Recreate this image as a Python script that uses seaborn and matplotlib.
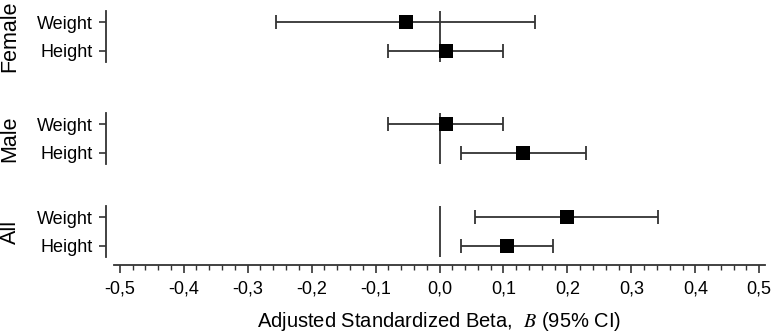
import matplotlib
matplotlib.use("Agg")
import matplotlib.pyplot as plt
import seaborn as sns
import pandas as pd
from matplotlib.ticker import MultipleLocator, FixedLocator

# Data
groups = ["Female", "Male", "All"]
measures = ["Weight", "Height"]
beta = [-0.053, 0.010, 0.010, 0.130, 0.199, 0.105]
lower = [-0.256, -0.080, -0.080, 0.033, 0.055, 0.033]
upper = [0.150, 0.100, 0.100, 0.229, 0.342, 0.177]
xticks = [-0.5, -0.4, -0.3, -0.2, -0.1, 0.0, 0.1, 0.2, 0.3, 0.4, 0.5]
xtick_labels = ["-0,5", "-0,4", "-0,3", "-0,2", "-0,1", "0,0", "0,1", "0,2", "0,3", "0,4", "0,5"]

df = pd.DataFrame({
    "group": [g for g in groups for _ in measures],
    "measure": measures * len(groups),
    "beta": beta,
    "lower": lower,
    "upper": upper,
})
df["row"] = df["measure"].map({m: i for i, m in enumerate(measures)})

sns.set_style("ticks", {"text.color": "black", "xtick.color": "black",
                        "ytick.color": "black", "axes.labelcolor": "black"})
plt.rcParams["font.family"] = ["Liberation Sans", "DejaVu Sans"]
plt.rcParams["mathtext.fontset"] = "stix"

W, H = 771, 332
fig = plt.figure(figsize=(W / 100, H / 100), dpi=100)

line_col = "#333333"
panel_px = [(11, 62), (113, 164), (206, 257)]  # top/bottom of each panel in pixels
left_px, right_px = 114, 765

for gi, g in enumerate(groups):
    top, bot = panel_px[gi]
    ax = fig.add_axes([left_px / W, (H - bot) / H, (right_px - left_px) / W, (bot - top) / H])
    sub = df[df["group"] == g]

    ax.axvline(0, color=line_col, lw=1.3, zorder=1)
    ax.errorbar(sub["beta"], sub["row"],
                xerr=[sub["beta"] - sub["lower"], sub["upper"] - sub["beta"]],
                fmt="none", ecolor=line_col, elinewidth=1.3, capsize=4.7,
                capthick=1.3, zorder=2)
    sns.scatterplot(data=sub, x="beta", y="row", marker="s", s=95, color="black",
                    edgecolor="black", linewidth=0, ax=ax, zorder=3, legend=False)

    if gi < len(groups) - 1:
        sns.despine(ax=ax, bottom=True, offset={"left": 6})
        ax.set_xticks([])
    else:
        sns.despine(ax=ax, offset={"left": 6, "bottom": 6})
        ax.xaxis.set_major_locator(FixedLocator(xticks))
        ax.set_xticklabels(xtick_labels)
        ax.xaxis.set_minor_locator(MultipleLocator(0.02))
        ax.tick_params(axis="x", which="major", length=6, width=1.2, pad=5,
                       color=line_col, labelsize=13)
        ax.tick_params(axis="x", which="minor", length=3.5, width=1.0, color=line_col)
        ax.spines["bottom"].set_linewidth(1.3)
        ax.spines["bottom"].set_color(line_col)

    ax.set_xlim(-0.509, 0.509)
    ax.set_ylim(1.38, -0.38)
    ax.set_yticks(range(len(measures)))
    ax.set_yticklabels(measures)
    ax.tick_params(axis="y", length=5, width=1.2, pad=4, color=line_col, labelsize=13)
    ax.spines["left"].set_linewidth(1.3)
    ax.spines["left"].set_color(line_col)
    ax.set_ylabel("")
    if gi == len(groups) - 1:
        ax.set_xlabel("Adjusted Standardized Beta,  $B$ (95% CI)", fontsize=14.5, labelpad=9)
    else:
        ax.set_xlabel("")

    fig.text(10 / W, 1 - (top + bot) / 2 / H, g, rotation=90, ha="center", va="center",
             fontsize=15.5)

fig.savefig("out.png", dpi=100)
